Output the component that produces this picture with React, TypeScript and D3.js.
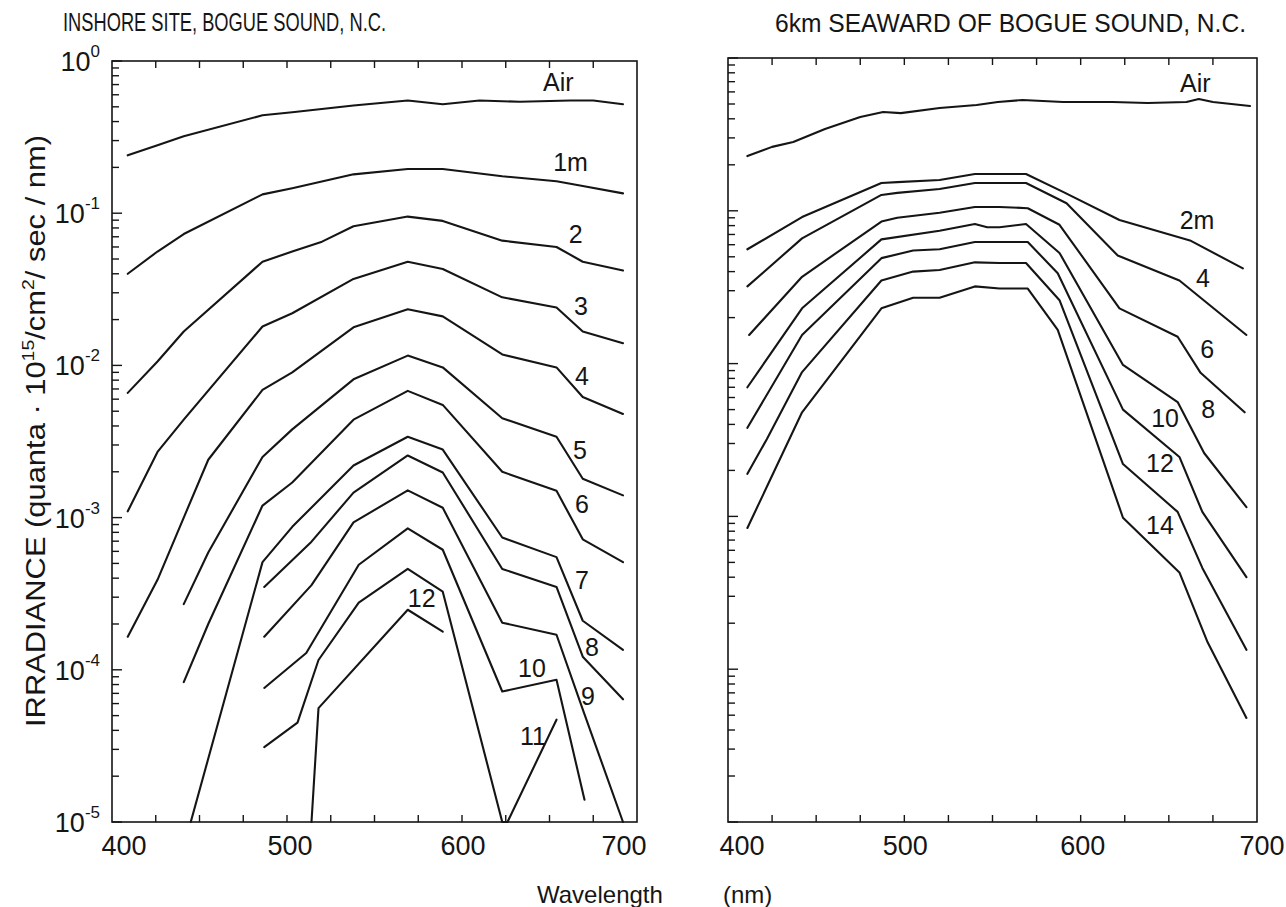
import React from "react";
import * as d3 from "d3";

type Pt = [number, number];

// ---------- axis ticks ----------
const wavelengthLabels = [400, 500, 600, 700];
const wavelengthMinor = [425, 450, 475, 500, 525, 550, 575, 600, 625, 650, 675];
const decadeExponents = [0, -1, -2, -3, -4, -5];
const minorMultipliers = [2, 3, 4, 5, 6, 7, 8, 9];

// ---------- Inshore site (left) : [wavelength nm, irradiance] ----------
const inshoreAir: Pt[] = [[409, 0.24], [426, 0.28], [441, 0.32], [486, 0.44], [503, 0.46], [538, 0.51], [569, 0.55], [589, 0.52], [610, 0.55], [633, 0.54], [662, 0.55], [675, 0.55], [692, 0.52]];
const inshore1: Pt[] = [[409, 0.04], [426, 0.056], [441, 0.073], [486, 0.133], [503, 0.146], [538, 0.18], [569, 0.195], [589, 0.195], [623, 0.175], [654, 0.162], [669, 0.151], [692, 0.135]];
const inshore2: Pt[] = [[409, 0.0066], [426, 0.0106], [441, 0.0167], [486, 0.048], [503, 0.056], [520, 0.065], [538, 0.082], [569, 0.095], [589, 0.089], [623, 0.066], [654, 0.06], [669, 0.048], [692, 0.042]];
const inshore3: Pt[] = [[409, 0.0011], [426, 0.0027], [441, 0.0044], [486, 0.018], [503, 0.022], [538, 0.037], [569, 0.048], [589, 0.043], [623, 0.028], [654, 0.024], [669, 0.0167], [692, 0.014]];
const inshore4: Pt[] = [[409, 1.65e-4], [426, 3.9e-4], [441, 1.0e-3], [455, 2.4e-3], [486, 6.9e-3], [503, 9.0e-3], [538, 0.0178], [569, 0.0234], [589, 0.021], [623, 0.0118], [654, 0.0097], [669, 0.0062], [692, 0.0048]];
const inshore5: Pt[] = [[441, 2.7e-4], [455, 5.9e-4], [486, 2.5e-3], [503, 3.8e-3], [538, 8.1e-3], [569, 0.0116], [589, 9.7e-3], [623, 4.5e-3], [654, 3.4e-3], [669, 1.8e-3], [692, 1.4e-3]];
const inshore6: Pt[] = [[441, 8.3e-5], [455, 2.0e-4], [486, 1.2e-3], [503, 1.7e-3], [538, 4.4e-3], [569, 6.8e-3], [589, 5.5e-3], [623, 2.0e-3], [654, 1.5e-3], [669, 7.2e-4], [692, 5.1e-4]];
const inshore7: Pt[] = [[445, 1e-5], [486, 5.1e-4], [503, 8.7e-4], [538, 2.2e-3], [569, 3.4e-3], [589, 2.8e-3], [623, 7.4e-4], [654, 5.5e-4], [669, 2.1e-4], [692, 1.35e-4]];
const inshore8: Pt[] = [[487, 3.5e-4], [514, 6.95e-4], [538, 1.46e-3], [569, 2.56e-3], [589, 1.98e-3], [623, 4.6e-4], [654, 3.5e-4], [669, 1.22e-4], [692, 6.4e-5]];
const inshore9: Pt[] = [[487, 1.65e-4], [514, 3.6e-4], [538, 9.3e-4], [569, 1.51e-3], [589, 1.16e-3], [623, 2.04e-4], [654, 1.7e-4], [669, 5.5e-5], [692, 1e-5]];
const inshore10: Pt[] = [[487, 7.6e-5], [511, 1.29e-4], [541, 4.9e-4], [569, 8.5e-4], [589, 6.15e-4], [623, 7.2e-5], [654, 8.6e-5], [670, 1.4e-5]];
const inshore11: Pt[] = [[487, 3.1e-5], [506, 4.5e-5], [518, 1.16e-4], [541, 2.76e-4], [569, 4.6e-4], [589, 3.26e-4], [623, 1e-5], [626, 1e-5], [654, 4.7e-5]];
const inshore12: Pt[] = [[514, 1e-5], [518, 5.6e-5], [569, 2.48e-4], [589, 1.78e-4]];

const inshoreNames = ["Air", "1m", "2", "3", "4", "5", "6", "7", "8", "9", "10", "11", "12"];
// label anchors [wavelength, irradiance]
const inshoreLabelAt: Pt[] = [[655, 0.73], [662, 0.217], [665, 0.0728], [668, 0.0244], [668.6, 0.00847], [667.4, 0.0028], [668.6, 0.00122], [668.6, 3.9e-4], [674.3, 1.42e-4], [672, 6.7e-5], [640, 1.03e-4], [640.6, 3.7e-5], [577, 2.98e-4]];

// ---------- 6 km seaward (right) ----------
const seawardAir: Pt[] = [[411, 0.228], [425, 0.262], [437, 0.282], [455, 0.343], [475, 0.411], [488, 0.443], [498, 0.436], [520, 0.471], [541, 0.492], [553, 0.515], [567, 0.531], [590, 0.515], [618, 0.515], [638, 0.508], [660, 0.515], [667, 0.539], [675, 0.515], [696, 0.485]];
const seaward2: Pt[] = [[411, 0.056], [442, 0.091], [487, 0.152], [496, 0.154], [520, 0.159], [540, 0.174], [554, 0.174], [569, 0.174], [590, 0.133], [622, 0.087], [662, 0.064], [692, 0.042]];
const seaward4: Pt[] = [[411, 0.032], [442, 0.066], [487, 0.127], [496, 0.131], [520, 0.139], [540, 0.152], [554, 0.152], [569, 0.152], [592, 0.112], [621, 0.051], [656, 0.035], [694, 0.0154]];
const seaward6: Pt[] = [[412, 0.0154], [442, 0.037], [487, 0.085], [496, 0.09], [520, 0.097], [540, 0.106], [554, 0.106], [570, 0.104], [588, 0.081], [622, 0.023], [655, 0.015], [668, 0.0087], [693, 0.0048]];
const seaward8: Pt[] = [[411, 0.007], [442, 0.023], [487, 0.065], [520, 0.074], [540, 0.082], [547, 0.078], [554, 0.078], [569, 0.082], [588, 0.053], [624, 0.0098], [655, 0.0056], [670, 0.0026], [694, 0.00115]];
const seaward10: Pt[] = [[411, 0.0038], [442, 0.0154], [487, 0.049], [505, 0.055], [520, 0.056], [540, 0.0625], [554, 0.0625], [570, 0.0625], [587, 0.039], [624, 0.005], [656, 0.00245], [669, 0.00107], [694, 0.0004]];
const seaward12: Pt[] = [[411, 0.0019], [422, 0.0032], [442, 0.0088], [487, 0.035], [505, 0.04], [520, 0.041], [540, 0.046], [554, 0.0455], [569, 0.0455], [588, 0.026], [624, 0.0022], [655, 0.00107], [669, 0.00046], [694, 0.000134]];
const seaward14: Pt[] = [[411, 0.00084], [442, 0.0048], [487, 0.023], [505, 0.027], [520, 0.027], [540, 0.032], [554, 0.031], [570, 0.031], [587, 0.0166], [624, 0.00098], [656, 0.00043], [672, 0.00015], [694, 0.000048]];

const seawardNames = ["Air", "2m", "4", "6", "8", "10", "12", "14"];
const seawardLabelAt: Pt[] = [[665, 0.686], [666, 0.0871], [669.4, 0.0363], [671.7, 0.0125], [672.3, 0.00505], [647.9, 0.0044], [645, 0.00223], [645, 0.00088]];

const inshoreSeries = [inshoreAir, inshore1, inshore2, inshore3, inshore4, inshore5, inshore6, inshore7, inshore8, inshore9, inshore10, inshore11, inshore12];
const seawardSeries = [seawardAir, seaward2, seaward4, seaward6, seaward8, seaward10, seaward12, seaward14];

const FONT = "'Liberation Sans', Arial, sans-serif";
const INK = "#151515";

type PanelProps = {
  left: number; right: number; top: number; bottom: number;
  series: Pt[][]; names: string[]; labelAt: Pt[];
  yLabels: boolean; labelShift: number[];
};

function Panel({ left, right, top, bottom, series, names, labelAt, yLabels, labelShift }: PanelProps) {
  const x = d3.scaleLinear().domain([400, 700]).range([left, right]);
  const y = d3.scaleLog().domain([1e-5, 1]).range([bottom, top]);
  const line = d3.line<Pt>().x((d) => x(d[0])).y((d) => y(d[1]));

  const yTicks: { v: number; major: boolean }[] = [];
  decadeExponents.forEach((e) => {
    yTicks.push({ v: Math.pow(10, e), major: true });
    if (e < 0) minorMultipliers.forEach((m) => yTicks.push({ v: m * Math.pow(10, e), major: false }));
  });

  return (
    <g>
      <rect x={left} y={top} width={right - left} height={bottom - top} fill="none" stroke={INK} strokeWidth={1.6} />
      {yTicks.map((t, i) => (
        <line key={"yt" + i} x1={left} x2={left + (t.major ? 10 : 7)} y1={y(t.v)} y2={y(t.v)} stroke={INK} strokeWidth={1.4} />
      ))}
      {wavelengthMinor.map((w) => (
        <g key={"xt" + w}>
          <line x1={x(w)} x2={x(w)} y1={bottom} y2={bottom - 7} stroke={INK} strokeWidth={1.4} />
          <line x1={x(w)} x2={x(w)} y1={top} y2={top + 7} stroke={INK} strokeWidth={1.4} />
        </g>
      ))}
      {wavelengthLabels.map((w, i) => (
        <text key={"xl" + w} x={x(w) + labelShift[i]} y={bottom + 33} textAnchor="middle" fontFamily={FONT} fontSize={27} fill={INK}>
          {w}
        </text>
      ))}
      {yLabels && decadeExponents.map((e) => (
        <text key={"yl" + e} x={left - 12} y={y(Math.pow(10, e)) + 10} textAnchor="end" fontFamily={FONT} fontSize={27} fill={INK}>
          10<tspan dy={-14} fontSize={17}>{e === 0 ? "0" : "-" + Math.abs(e)}</tspan>
        </text>
      ))}
      {series.map((s, i) => (
        <path key={"s" + i} d={line(s) || ""} fill="none" stroke={INK} strokeWidth={2.1} strokeLinejoin="round" strokeLinecap="round" />
      ))}
      {names.map((n, i) => (
        <text key={"n" + i} x={x(labelAt[i][0])} y={y(labelAt[i][1]) + 9} textAnchor="middle" fontFamily={FONT} fontSize={25} fill={INK}>
          {n}
        </text>
      ))}
    </g>
  );
}

export default function App() {
  return (
    <svg width={1286} height={907} viewBox="0 0 1286 907" style={{ position: "absolute", left: 0, top: 0, background: "#fff" }}>
      <rect x={0} y={0} width={1286} height={907} fill="#fff" />
      <Panel left={112} right={637} top={61} bottom={822} series={inshoreSeries} names={inshoreNames} labelAt={inshoreLabelAt} yLabels={true} labelShift={[12, 3, 1, -13]} />
      <Panel left={728} right={1257} top={58} bottom={822} series={seawardSeries} names={seawardNames} labelAt={seawardLabelAt} yLabels={false} labelShift={[14, 1, 2, 5]} />

      <text x={63} y={31} fontFamily={FONT} fontSize={25} fill={INK} textLength={323} lengthAdjust="spacingAndGlyphs">INSHORE SITE, BOGUE SOUND, N.C.</text>
      <text x={775} y={32} fontFamily={FONT} fontSize={25} fill={INK} textLength={471} lengthAdjust="spacingAndGlyphs">6km SEAWARD OF BOGUE SOUND, N.C.</text>

      <text transform="translate(45,431) rotate(-90)" textAnchor="middle" fontFamily={FONT} fontSize={27} fill={INK} textLength={592} lengthAdjust="spacingAndGlyphs">
        IRRADIANCE (quanta · 10<tspan dy={-11} fontSize={17}>15</tspan><tspan dy={11}>/cm</tspan><tspan dy={-11} fontSize={17}>2</tspan><tspan dy={11}>/ sec / nm)</tspan>
      </text>

      <text x={537} y={903} fontFamily={FONT} fontSize={24} fill={INK}>Wavelength</text>
      <text x={723} y={903} fontFamily={FONT} fontSize={24} fill={INK}>(nm)</text>
    </svg>
  );
}
